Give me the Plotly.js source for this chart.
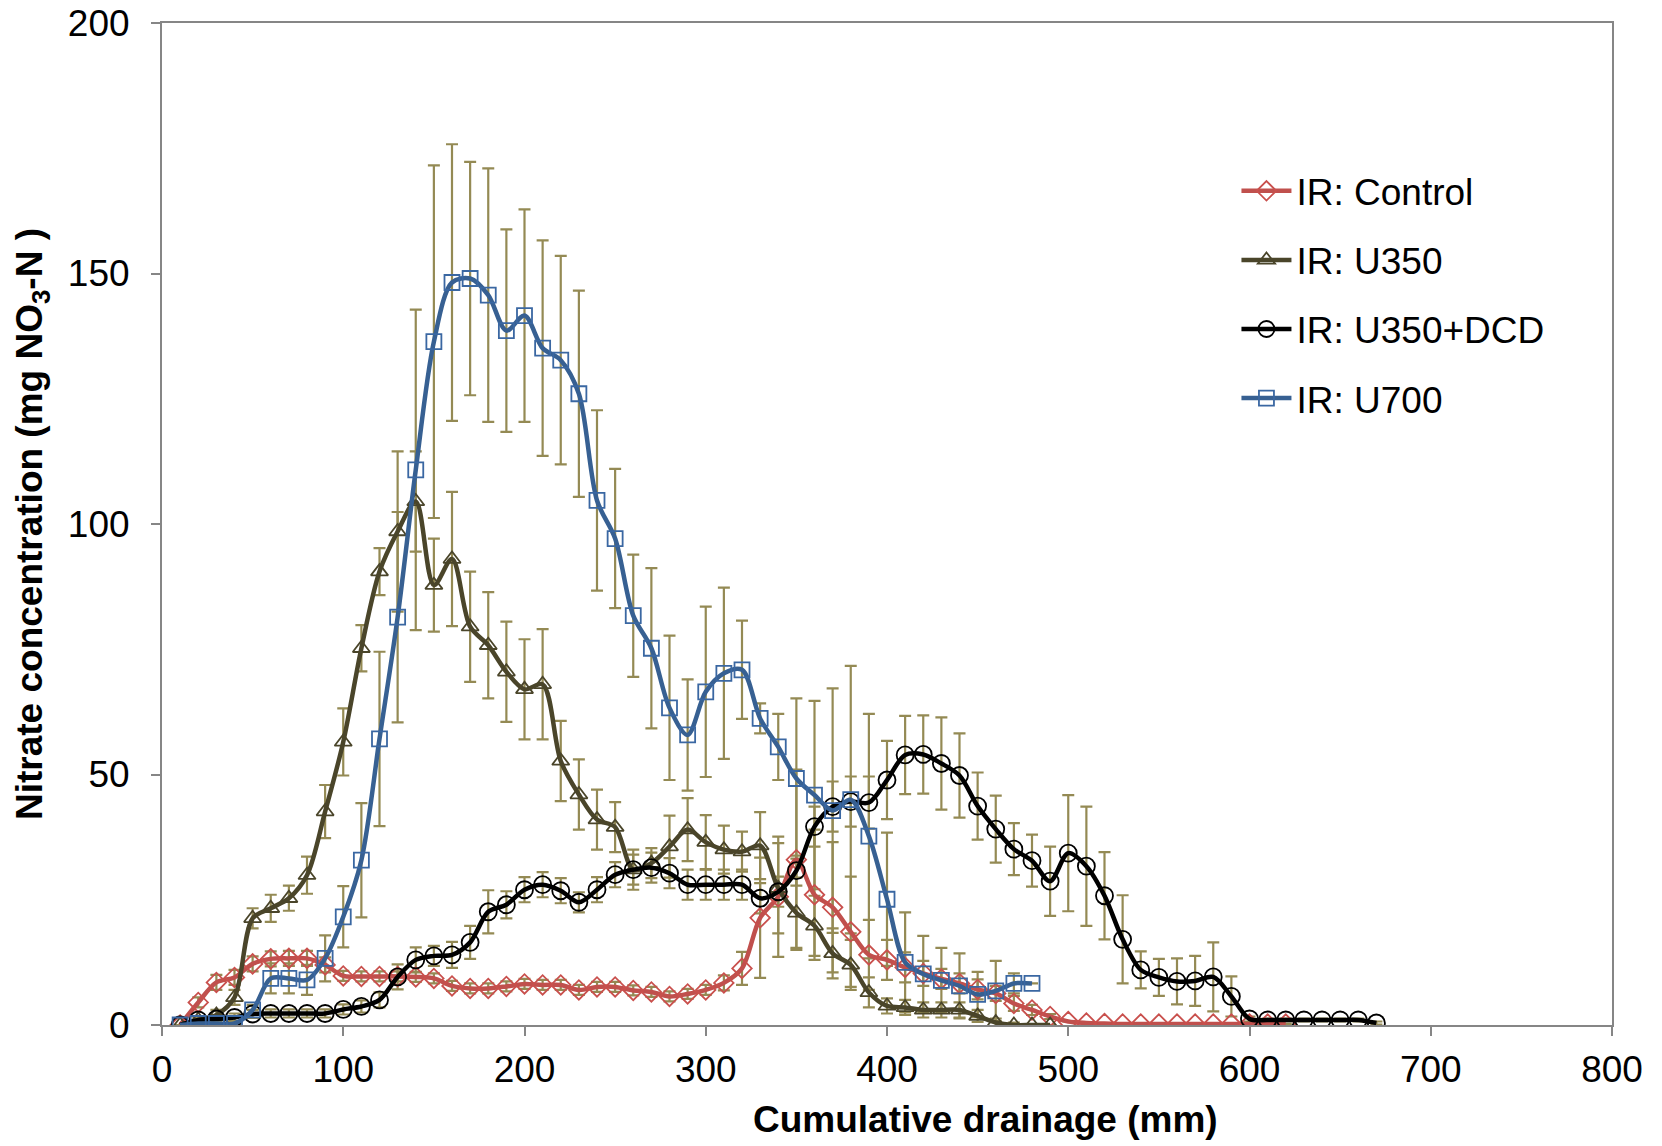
<!DOCTYPE html>
<html>
<head>
<meta charset="utf-8">
<script src="https://cdn.plot.ly/plotly-3.0.1.min.js"></script>
<style>
  html, body { margin: 0; padding: 0; background: #ffffff; }
  #chart { width: 1662px; height: 1146px; }
</style>
</head>
<body>
<div id="chart"></div>
<script>
// Cumulative drainage (mm) at each sampling event, per treatment
const drainageControl = [10,20,30,40,50,60,70,80,90,100,110,120,130,140,150,160,170,180,190,200,210,220,230,240,250,260,270,280,290,300,310,320,330,340,350,360,370,380,390,400,410,420,430,440,450,460,470,480,490,500,510,520,530,540,550,560,570,580,590,600,610,620];
const drainageU350 = [10,20,30,40,50,60,70,80,90,100,110,120,130,140,150,160,170,180,190,200,210,220,230,240,250,260,270,280,290,300,310,320,330,340,350,360,370,380,390,400,410,420,430,440,450,460,470,480,490];
const drainageDCD = [10,20,30,40,50,60,70,80,90,100,110,120,130,140,150,160,170,180,190,200,210,220,230,240,250,260,270,280,290,300,310,320,330,340,350,360,370,380,390,400,410,420,430,440,450,460,470,480,490,500,510,520,530,540,550,560,570,580,590,600,610,620,630,640,650,660,670];
const drainageU700 = [10,20,30,40,50,60,70,80,90,100,110,120,130,140,150,160,170,180,190,200,210,220,230,240,250,260,270,280,290,300,310,320,330,340,350,360,370,380,390,400,410,420,430,440,450,460,470,480];

// Nitrate concentration (mg NO3-N) means
const nitrateControl = [0,4.5,8.5,9.5,12.2,13.2,13.3,13.3,12,9.8,9.7,9.7,9.7,9.6,9.3,7.8,7.3,7.3,7.7,8.2,8,8,7,7.6,7.6,6.9,6.6,5.7,6.2,7,8.4,11.3,21.4,25.6,33,26,23.5,18.6,14,13,11.5,10.3,9.2,8.3,7.1,6.3,4.3,3,1.7,0.7,0.4,0.3,0.2,0.2,0.2,0.2,0.2,0.2,0.2,0.2,0.2,0.2];
const nitrateU350 = [0,1,2,5.5,21.3,23.3,25.3,29.9,42.6,56.5,75.2,90.5,98.5,104.5,87.8,93,79.5,75.8,70.5,67,68,52.7,46,41,39.5,31,32.3,35.6,39,36.5,35,34.6,35.8,27.3,22.4,19.8,14.3,12,6.5,3.8,3.5,3,3,3,1.8,0.5,0,0,0];
const nitrateDCD = [0,1,1.2,1.5,2.2,2.3,2.3,2.3,2.3,3.1,3.7,5,9.6,13,13.8,14,16.5,22.6,24,27,28,26.8,24.5,27,30,31,31.4,30.3,28,28,28,28,25.3,26.6,30.8,39.6,43.6,44.6,44.4,48.9,53.9,54,52.2,49.8,43.7,39.1,35.1,32.8,28.7,34.3,31.7,25.8,17.1,11,9.5,8.7,8.8,9.6,5.7,1.2,1,1,1,1,1,1,0.4];
const nitrateU700 = [0,0.3,0.3,0.3,3,9.3,9.3,9,13.3,21.6,32.9,57.1,81.4,110.8,136.4,148.2,149,145.7,138.6,141.6,135.1,132.7,126,104.7,97.1,81.7,75.2,63.3,57.9,66.5,70.2,70.9,61.2,55.5,49.2,45.9,42.8,45,37.7,25.1,12.5,10.2,8.9,7.8,6.1,6.8,8.3,8.3];

// Error bar half-lengths (mg NO3-N)
const errControl = [0,1,1.5,1.5,1.5,1.5,1.5,1.5,1.5,1,1,1,1,1,1,1,1,1,1,1,1,1,1,1,1,1,1,1,1,1,1.5,3.3,12,12,18,13,13,11,7,4,3,2.5,2,2,2,1.5,1.5,1,0.5,0,0,0,0,0,0,0,0,0,0,0,0,0];
const errU350 = [0,0.5,1,1.5,2,2.7,2.5,3.7,5.3,6.7,4.6,4.7,16,10,9.3,13.4,11,10.6,10,10,11,8,7,6,5,4,3,6.2,6.3,5.4,4.8,4,6.7,9,7,6,5,5,3,1.5,1.5,1.5,1.5,1.5,1.2,0.8,0.5,0,0];
const errDCD = [0,0.8,0.8,0.8,0.8,0.8,0.8,0.8,0.8,1,1.2,1.5,2.5,2.5,2,2.6,3.3,4.3,2.7,2.5,2.5,2.5,2,2.5,2.5,3,3,3,3,3,3,3,3,3,3,4,5,5,5.2,7.8,7.8,7.8,9.2,8.4,6.7,6.7,5.2,5.2,6.9,11.6,11.9,8.7,8.8,3.7,3.7,4.6,5,6.9,4,0.5,0.3,0.3,0.3,0.3,0.3,0.3,0.3];
const errU700 = [0,0.3,0.5,0.5,1,3,3,3,4.6,6.1,11.4,17.4,21,32,35.2,27.6,23.3,25.3,20.2,21.2,21.5,20.8,20.6,18,13.9,12.2,16,14.4,11.1,17,17.1,9.8,3,6.6,16,18.8,24.4,26.7,24.4,13.3,10,7.6,6.5,6.5,4.5,6,2,0];

const seriesNames = ['IR: Control', 'IR: U350', 'IR: U350+DCD', 'IR: U700'];

const ERR_COLOR = '#948A54';
const FONT = 'Liberation Sans, Arial, Helvetica, sans-serif';

const series = [
  { name: seriesNames[0], x: drainageControl, y: nitrateControl, err: errControl,
    line: '#C0504D', marker: 'diamond-open', size: 15, mcolor: '#C9504D' },
  { name: seriesNames[1], x: drainageU350, y: nitrateU350, err: errU350,
    line: '#4A452A', marker: 'triangle-up-open', size: 15, mcolor: '#4A452A' },
  { name: seriesNames[2], x: drainageDCD, y: nitrateDCD, err: errDCD,
    line: '#000000', marker: 'circle-open', size: 17, mcolor: '#000000' },
  { name: seriesNames[3], x: drainageU700, y: nitrateU700, err: errU700,
    line: '#376092', marker: 'square-open', size: 15, mcolor: '#3A67A2' }
];

// Error bars go underneath every curve
const errorTraces = series.map(s => ({
  type: 'scatter',
  mode: 'markers',
  x: s.x,
  y: s.y,
  marker: { size: 1, opacity: 0 },
  error_y: { type: 'data', array: s.err, visible: true, color: ERR_COLOR, thickness: 2.2, width: 6 },
  showlegend: false,
  hoverinfo: 'skip'
}));

const lineTraces = series.map((s, i) => ({
  type: 'scatter',
  mode: 'lines+markers',
  name: s.name,
  legendgroup: 'g' + i,
  x: s.x,
  y: s.y,
  line: { color: s.line, width: 4.5, shape: 'spline', smoothing: 0.9 },
  marker: { symbol: s.marker, size: s.size, color: s.mcolor, line: { color: s.mcolor, width: 1.8 } }
}));

const axisCommon = {
  showgrid: false,
  zeroline: false,
  showline: true,
  linecolor: '#868686',
  linewidth: 2,
  mirror: true,
  ticks: 'outside',
  tickcolor: '#868686',
  tickwidth: 2,
  ticklen: 9,
  tickfont: { family: FONT, size: 37, color: '#000000' }
};

const layout = {
  width: 1662,
  height: 1146,
  paper_bgcolor: '#ffffff',
  plot_bgcolor: '#ffffff',
  margin: { l: 162, r: 50, t: 23, b: 121 },
  font: { family: FONT, color: '#000000' },
  xaxis: Object.assign({}, axisCommon, {
    range: [0, 800],
    tick0: 0,
    dtick: 100,
    ticklabelstandoff: 2
  }),
  yaxis: Object.assign({}, axisCommon, {
    range: [0, 200],
    tick0: 0,
    dtick: 50,
    ticklabelstandoff: 14,
    title: { text: '<b>Nitrate concentration (mg NO<sub>3</sub>-N )</b>', font: { family: FONT, size: 37, color: '#000000' }, standoff: 14 }
  }),
  // x-axis title, set a little right of the plot centre
  annotations: [{
    text: '<b>Cumulative drainage (mm)</b>',
    xref: 'paper', yref: 'paper',
    x: 0.5676, y: -0.0948,
    xanchor: 'center', yanchor: 'middle',
    showarrow: false,
    font: { family: FONT, size: 37, color: '#000000' }
  }],
  legend: {
    x: 0.741,
    y: 0.863,
    xanchor: 'left',
    yanchor: 'top',
    bgcolor: 'rgba(0,0,0,0)',
    font: { family: FONT, size: 37, color: '#000000' },
    tracegroupgap: 18,
    itemwidth: 50
  },
  showlegend: true
};

Plotly.newPlot('chart', errorTraces.concat(lineTraces), layout, { displayModeBar: false, staticPlot: true });
</script>
</body>
</html>
